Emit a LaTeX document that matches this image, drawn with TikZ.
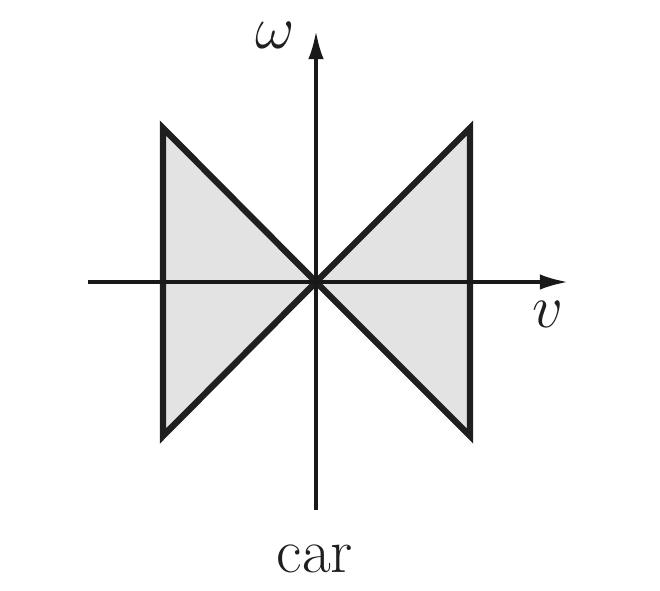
\documentclass[tikz,border=0pt]{standalone}
\usetikzlibrary{arrows.meta}
\begin{document}
\begin{tikzpicture}[x=0.01cm,y=-0.01cm,
  axis/.style={line width=0.95pt,draw=black!90,-{Latex[length=8pt,width=4.4pt]}},
  bow/.style={line width=1.8pt,draw=black!88,fill=black!11,line join=miter},
  lab/.style={font=\fontsize{16.5}{20}\selectfont,text=black!88,inner sep=0pt}]
\useasboundingbox (0,0) rectangle (660,590);
\coordinate (O) at (316,282);
\coordinate (tl) at (163,128);
\coordinate (bl) at (163,436);
\coordinate (tr) at (470,128);
\coordinate (br) at (470,436);
\filldraw[bow] (O) -- (tl) -- (bl) -- cycle;
\filldraw[bow] (O) -- (tr) -- (br) -- cycle;
\coordinate (xs) at (88,282);
\coordinate (xe) at (568,282);
\coordinate (ys) at (316,510);
\coordinate (ye) at (316,31);
\draw[axis] (xs) -- (xe);
\draw[axis] (ys) -- (ye);
\node[lab] (w) at (275,35) {$\omega$};
\node[lab] (v) at (548,314) {$v$};
\node[lab,font=\fontsize{17.8}{21}\selectfont,anchor=base] (car) at (315,572) {car};
\end{tikzpicture}
\end{document}
